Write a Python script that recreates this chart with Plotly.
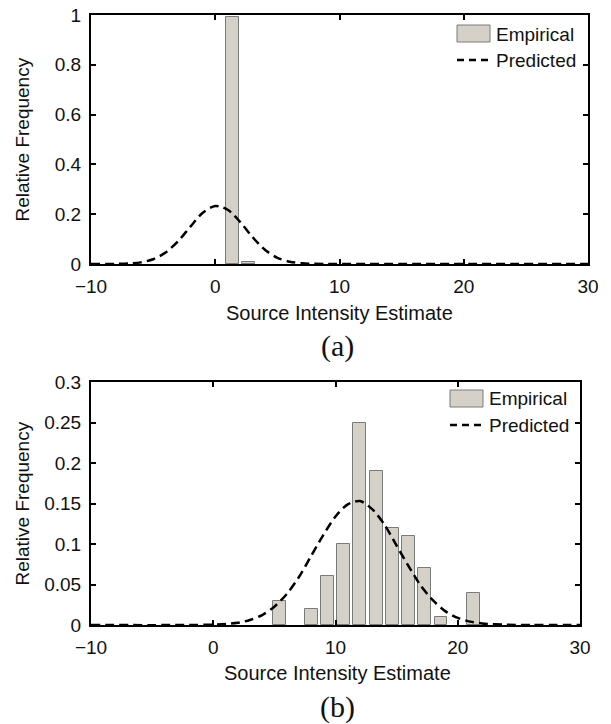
import plotly.graph_objects as go

# target picture size; the page body margin is removed by a post script
W, H = 611, 724

# ---------------- data ----------------
# Panel (a)
a_bin_centers = [1.37, 2.68]
a_rel_freq = [0.99, 0.01]
a_curve_x = [-10, -8, -7, -6, -5, -4, -3, -2, -1, 0, 1, 2, 3, 4, 5, 6, 7, 8, 9, 10, 30]
a_curve_y = [0, 0.0004, 0.0019, 0.0066, 0.019, 0.046, 0.091, 0.150, 0.206, 0.233, 0.218,
             0.169, 0.108, 0.057, 0.025, 0.0092, 0.0028, 0.0007, 0.0001, 0, 0]

# Panel (b)
b_bin_centers = [5.38, 8.03, 9.36, 10.68, 12.0, 13.33, 14.66, 15.98, 17.3, 18.63, 21.28]
b_rel_freq = [0.03, 0.02, 0.06, 0.10, 0.25, 0.19, 0.12, 0.11, 0.07, 0.01, 0.04]
b_curve_x = [-10, 0, 2, 3, 4, 5, 6, 7, 8, 9, 10, 11, 12, 13, 14, 15, 16, 17, 18, 19, 20,
             21, 22, 24, 26, 30]
b_curve_y = [0, 0.0005, 0.0028, 0.0061, 0.0123, 0.0226, 0.038, 0.059, 0.085, 0.111, 0.134,
             0.149, 0.153, 0.143, 0.124, 0.098, 0.072, 0.048, 0.030, 0.0168, 0.0088,
             0.0042, 0.0019, 0.0003, 0, 0]

x_ticks = [-10, 0, 10, 20, 30]
a_y_ticks = [0, 0.2, 0.4, 0.6, 0.8, 1]
a_y_labels = ["0", "0.2", "0.4", "0.6", "0.8", "1"]
b_y_ticks = [0, 0.05, 0.1, 0.15, 0.2, 0.25, 0.3]
b_y_labels = ["0", "0.05", "0.1", "0.15", "0.2", "0.25", "0.3"]

BAR_W = 1.06
BAR_FILL = "#d5d1c9"
BAR_EDGE = "#7a7a7a"
SANS = "Liberation Sans, Arial, sans-serif"
SERIF = "Liberation Serif, Times New Roman, serif"


def px(x):
    return x / W


def py(y):
    return 1 - y / H


fig = go.Figure()

fig.add_trace(go.Bar(x=a_bin_centers, y=a_rel_freq, width=BAR_W, marker=dict(color=BAR_FILL,
                     line=dict(color=BAR_EDGE, width=1)), xaxis="x", yaxis="y", showlegend=False))
fig.add_trace(go.Scatter(x=a_curve_x, y=a_curve_y, mode="lines",
                         line=dict(color="black", width=2.5, dash="9px,5px", shape="spline", smoothing=0.8),
                         xaxis="x", yaxis="y", showlegend=False))
fig.add_trace(go.Bar(x=b_bin_centers, y=b_rel_freq, width=BAR_W, marker=dict(color=BAR_FILL,
                     line=dict(color=BAR_EDGE, width=1)), xaxis="x2", yaxis="y2", showlegend=False))
fig.add_trace(go.Scatter(x=b_curve_x, y=b_curve_y, mode="lines",
                         line=dict(color="black", width=2.5, dash="9px,5px", shape="spline", smoothing=0.8),
                         xaxis="x2", yaxis="y2", showlegend=False))

ax_common = dict(showline=True, linecolor="black", linewidth=2, mirror="ticks", ticks="inside",
                 ticklen=5, tickwidth=1.5, tickcolor="black", showgrid=False, zeroline=False,
                 automargin=False, ticklabeloverflow="allow",
                 tickfont=dict(family=SANS, size=19, color="#111"))

# panel geometry (pixels in the picture)
A_L, A_R, A_T, A_B = 91, 588, 15, 264
B_L, B_R, B_T, B_B = 91, 580, 382, 625

fig.update_layout(
    template="none",
    width=W, height=H, margin=dict(l=0, r=0, t=0, b=0, autoexpand=False),
    paper_bgcolor="white", plot_bgcolor="white", bargap=0, showlegend=False,
    xaxis=dict(domain=[px(A_L), px(A_R)], range=[-10, 30], tickvals=x_ticks, anchor="y",
               ticklabelstandoff=4, **ax_common),
    yaxis=dict(domain=[py(A_B), py(A_T)], range=[0, 1], tickvals=a_y_ticks, ticktext=a_y_labels,
               anchor="x", ticklabelstandoff=4, **ax_common),
    xaxis2=dict(domain=[px(B_L), px(B_R)], range=[-10, 30], tickvals=x_ticks, anchor="y2",
                ticklabelstandoff=4, **ax_common),
    yaxis2=dict(domain=[py(B_B), py(B_T)], range=[0, 0.3], tickvals=b_y_ticks, ticktext=b_y_labels,
                anchor="x2", ticklabelstandoff=4, **ax_common),
)

ann = []


def text(x, y, s, size=19, family=SANS, angle=0, xanchor="center"):
    ann.append(dict(x=px(x), y=py(y), xref="paper", yref="paper", text=s, showarrow=False,
                    textangle=angle, xanchor=xanchor, yanchor="middle",
                    font=dict(family=family, size=size, color="#111")))


# axis titles and panel labels
text(22, (A_T + A_B) / 2, "Relative Frequency", angle=-90)
text(22, (B_T + B_B) / 2, "Relative Frequency", angle=-90)
text(339, 313, "Source Intensity Estimate", size=20)
text(337, 673, "Source Intensity Estimate", size=20)
text(337, 346, "(a)", size=30, family=SERIF)
text(337, 707, "(b)", size=30, family=SERIF)

shapes = []


def legend(x0, y0):
    # patch
    shapes.append(dict(type="rect", xref="paper", yref="paper", x0=px(x0), x1=px(x0 + 33),
                       y0=py(y0 + 17), y1=py(y0), fillcolor=BAR_FILL,
                       line=dict(color=BAR_EDGE, width=1)))
    shapes.append(dict(type="line", xref="paper", yref="paper", x0=px(x0), x1=px(x0 + 33),
                       y0=py(y0 + 35), y1=py(y0 + 35),
                       line=dict(color="black", width=2.5, dash="7px,5px")))
    text(x0 + 37, y0 + 9, "Empirical", xanchor="left")
    text(x0 + 37, y0 + 35, "Predicted", xanchor="left")


legend(457, 25)
legend(450, 390)

fig.update_layout(annotations=ann, shapes=shapes)
fig.write_html("out.html", config={"displayModeBar": False},
               post_script="document.body.style.margin='0';document.body.style.overflow='hidden';")
